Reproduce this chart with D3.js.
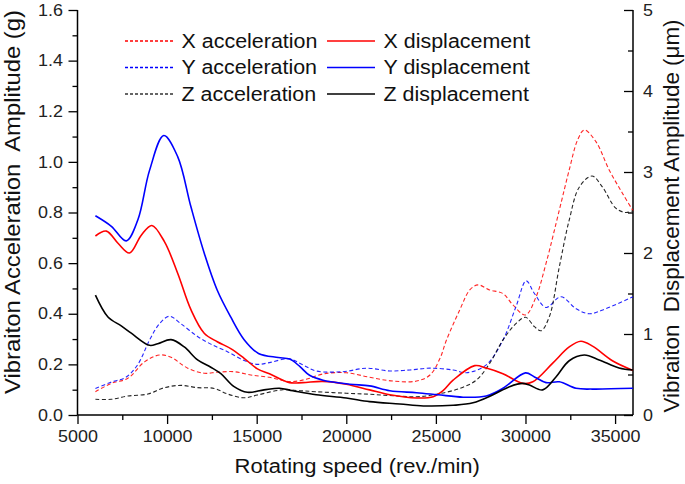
<!DOCTYPE html>
<html><head><meta charset="utf-8">
<script src="https://cdn.jsdelivr.net/npm/d3@7"></script>
<style>
html,body{margin:0;padding:0;background:#fff;}
svg{display:block;font-family:"Liberation Sans",Arial,sans-serif;}
text{white-space:pre;}
</style></head>
<body>
<svg id="chart" width="685" height="484"></svg>
<script>
// Rotating speed (rev./min) vs amplitude
const xAccel = [[6000,0.092],[6890,0.125],[7810,0.145],[8740,0.21],[9570,0.237],[10220,0.228],[11150,0.185],[12070,0.165],[12800,0.169],[13740,0.171],[14670,0.158],[15710,0.149],[16830,0.132],[17760,0.141],[18690,0.162],[20000,0.167],[21300,0.149],[22610,0.134],[23920,0.134],[24670,0.158],[25230,0.224],[25590,0.296],[26330,0.415],[26890,0.494],[27350,0.514],[28000,0.494],[28740,0.48],[29300,0.435],[30000,0.395],[30590,0.467],[31150,0.60],[31890,0.81],[32440,0.968],[32910,1.087],[33280,1.126],[33930,1.08],[34670,0.968],[35410,0.876],[36000,0.807]];
const yAccel = [[6000,0.105],[6890,0.13],[7720,0.15],[8370,0.20],[9020,0.296],[9570,0.36],[10130,0.39],[10780,0.36],[11700,0.31],[12440,0.28],[13370,0.25],[14300,0.215],[15040,0.20],[15710,0.207],[16830,0.222],[17570,0.198],[18320,0.174],[19810,0.171],[21120,0.185],[22430,0.174],[23550,0.178],[24670,0.185],[25960,0.178],[26700,0.167],[27810,0.198],[28740,0.296],[29480,0.43],[30040,0.53],[30500,0.48],[31150,0.425],[31980,0.467],[32820,0.42],[33560,0.40],[34480,0.42],[36000,0.467]];
const zAccel = [[6000,0.062],[6890,0.062],[7810,0.075],[8930,0.083],[9850,0.108],[10780,0.117],[11700,0.108],[12630,0.105],[13370,0.083],[14300,0.068],[15040,0.079],[16460,0.10],[17390,0.096],[18320,0.092],[20000,0.086],[21300,0.082],[22610,0.076],[23920,0.072],[25040,0.082],[26330,0.105],[27260,0.138],[28000,0.204],[28740,0.296],[29480,0.362],[30000,0.386],[30500,0.349],[30870,0.333],[31330,0.388],[31890,0.586],[32440,0.77],[33000,0.90],[33710,0.944],[34300,0.90],[35040,0.817],[35590,0.80],[36000,0.807]];
const xDisp = [[6000,2.21],[6610,2.27],[7260,2.12],[7900,2.0],[8560,2.22],[9150,2.34],[9850,2.14],[10590,1.75],[11330,1.30],[12070,1.01],[12800,0.905],[13550,0.82],[14300,0.70],[15040,0.57],[15710,0.51],[16830,0.40],[17570,0.40],[18690,0.415],[20000,0.38],[21300,0.31],[22430,0.25],[23920,0.21],[24850,0.225],[25400,0.30],[25960,0.43],[27170,0.61],[27810,0.58],[28740,0.51],[29850,0.39],[30410,0.41],[31520,0.64],[32440,0.84],[33090,0.91],[33740,0.85],[34850,0.67],[36000,0.55]];
const yDisp = [[6000,2.46],[6890,2.33],[7720,2.15],[8370,2.41],[9020,3.02],[9815,3.45],[10590,3.19],[11330,2.57],[12070,2.0],[12800,1.54],[13550,1.21],[14300,0.93],[15100,0.76],[16200,0.71],[16840,0.69],[17400,0.60],[17950,0.49],[18700,0.43],[20190,0.38],[21300,0.36],[22430,0.30],[23920,0.275],[25100,0.25],[26520,0.22],[27810,0.235],[28740,0.33],[30000,0.52],[30500,0.47],[31150,0.40],[31890,0.41],[32820,0.33],[33740,0.32],[36000,0.33]];
const zDisp = [[6000,1.48],[6700,1.21],[7440,1.10],[8000,1.01],[9020,0.86],[9480,0.88],[10220,0.93],[10960,0.84],[11700,0.68],[12440,0.59],[13000,0.51],[13740,0.35],[14480,0.28],[15410,0.31],[16270,0.33],[17010,0.30],[18320,0.25],[20000,0.21],[21300,0.165],[22990,0.136],[24300,0.112],[25960,0.12],[27070,0.15],[28190,0.25],[29110,0.35],[29850,0.39],[30220,0.37],[30960,0.31],[31700,0.47],[32440,0.67],[33280,0.74],[34110,0.68],[35220,0.58],[36000,0.555]];

const xTicks = [5000,10000,15000,20000,25000,30000,35000];
const leftTicks = [0,0.2,0.4,0.6,0.8,1.0,1.2,1.4,1.6];
const rightTicks = [0,1,2,3,4,5];
const legendLabels = ["X acceleration","X displacement","Y acceleration","Y displacement","Z acceleration","Z displacement"];

const svg = d3.select("#chart");
const L = 77.5, R = 633, T = 10, B = 415;
const K = 1.1; // horizontal stretch of the source image's text
const x = d3.scaleLinear().domain([5000,36000]).range([L,R]);
const yL = d3.scaleLinear().domain([0,1.6]).range([B,T]);
const yR = d3.scaleLinear().domain([0,5]).range([B,T]);

function stretch(sel){
  sel.each(function(){
    const w = this.getComputedTextLength();
    d3.select(this).attr("textLength", w*K).attr("lengthAdjust","spacingAndGlyphs");
  });
}

const fs = "16.3px";
const FF = "Liberation Sans, Arial, sans-serif";
// bottom axis
const bottom = svg.append("g").attr("transform",`translate(0,${B})`)
  .call(d3.axisBottom(x).tickValues(d3.range(5000,36001,2500)).tickSize(0).tickFormat(""));
bottom.selectAll(".tick line").attr("y2",d=>d%5000===0?9:5).attr("stroke","#000").attr("stroke-width",1.3);
bottom.select(".domain").attr("stroke","#000").attr("stroke-width",1.5).attr("d",`M${L},0H${R}`);
const bottomLab = svg.append("g").attr("transform",`translate(0,${B})`)
  .call(d3.axisBottom(x).tickValues(xTicks).tickSize(0).tickPadding(15).tickFormat(d3.format("d")));
bottomLab.select(".domain").remove();
bottomLab.selectAll("text").attr("font-size",fs).attr("font-family",FF).attr("fill","#222").call(stretch);

// left axis
const left = svg.append("g").attr("transform",`translate(${L},0)`)
  .call(d3.axisLeft(yL).tickValues(d3.range(0,1.601,0.1)).tickSize(0).tickFormat(""));
left.selectAll(".tick line").attr("x2",(d,i)=>i%2===0?-9:-5).attr("stroke","#000").attr("stroke-width",1.3);
left.select(".domain").attr("stroke","#000").attr("stroke-width",1.5).attr("d",`M0,${T}V${B}`);
const leftLab = svg.append("g").attr("transform",`translate(${L},0)`)
  .call(d3.axisLeft(yL).tickValues(leftTicks).tickSize(0).tickPadding(14.5).tickFormat(d3.format(".1f")));
leftLab.select(".domain").remove();
leftLab.selectAll("text").attr("font-size",fs).attr("font-family",FF).attr("fill","#222").call(stretch);

// right axis
const right = svg.append("g").attr("transform",`translate(${R},0)`)
  .call(d3.axisRight(yR).tickValues(d3.range(0,5.001,0.5)).tickSize(0).tickFormat(""));
right.selectAll(".tick line").attr("x2",(d,i)=>i%2===0?-9:-5).attr("stroke","#000").attr("stroke-width",1.3);
right.select(".domain").attr("stroke","#000").attr("stroke-width",1.5).attr("d",`M0,${T}V${B}`);
const rightLab = svg.append("g").attr("transform",`translate(${R},0)`)
  .call(d3.axisRight(yR).tickValues(rightTicks).tickSize(0).tickPadding(10).tickFormat(d3.format("d")));
rightLab.select(".domain").remove();
rightLab.selectAll("text").attr("font-size",fs).attr("font-family",FF).attr("fill","#222").call(stretch);

// titles
svg.append("text").attr("x",(L+R)/2+2).attr("y",473).attr("text-anchor","middle")
  .attr("font-size","20px").attr("fill","#111").text("Rotating speed (rev./min)").call(stretch);
svg.append("text").attr("transform",`translate(20,202) rotate(-90)`).attr("text-anchor","middle")
  .attr("font-size","22px").attr("fill","#111")
  .attr("textLength",384).attr("lengthAdjust","spacingAndGlyphs")
  .text("Vibraiton Acceleration  Amplitude (g)");
svg.append("text").attr("transform",`translate(679,216) rotate(-90)`).attr("text-anchor","middle")
  .attr("font-size","22px").attr("fill","#111")
  .attr("textLength",393).attr("lengthAdjust","spacingAndGlyphs")
  .text("Vibraiton  Displacement Amplitude (μm)");

// lines
const curve = d3.curveCatmullRom.alpha(0.5);
const lineL = d3.line().x(d=>x(d[0])).y(d=>yL(d[1])).curve(curve);
const lineR = d3.line().x(d=>x(d[0])).y(d=>yR(d[1])).curve(curve);
const series = [
  {d:xAccel,c:"#ff0000",dash:true,g:lineL},
  {d:yAccel,c:"#0000ff",dash:true,g:lineL},
  {d:zAccel,c:"#000000",dash:true,g:lineL},
  {d:xDisp,c:"#ff0000",dash:false,g:lineR},
  {d:yDisp,c:"#0000ff",dash:false,g:lineR},
  {d:zDisp,c:"#000000",dash:false,g:lineR}
];
const plot = svg.append("g");
series.forEach(s=>{
  plot.append("path").attr("d",s.g(s.d)).attr("fill","none").attr("stroke",s.c)
    .attr("stroke-width",s.dash?1.1:1.6).attr("stroke-dasharray",s.dash?"4,2.5":null)
    .attr("opacity",s.dash?0.85:1);
});

// legend
const colors = ["#ff0000","#ff0000","#0000ff","#0000ff","#333333","#000000"];
const lg = svg.append("g");
legendLabels.forEach((lab,i)=>{
  const row = Math.floor(i/2), col = i%2;
  const yy = 41 + row*26.5;
  const x0 = col===0 ? 125 : 327;
  const dash = col===0;
  lg.append("line").attr("x1",x0).attr("x2",x0+48).attr("y1",yy).attr("y2",yy)
    .attr("stroke",colors[i]).attr("stroke-width",dash?1.3:1.6).attr("stroke-dasharray",dash?"3,2":null);
  lg.append("text").attr("x",x0+56.5).attr("y",yy+6.5).attr("font-size","19.5px").attr("fill","#111")
    .text(lab).call(stretch);
});
</script>
</body></html>
